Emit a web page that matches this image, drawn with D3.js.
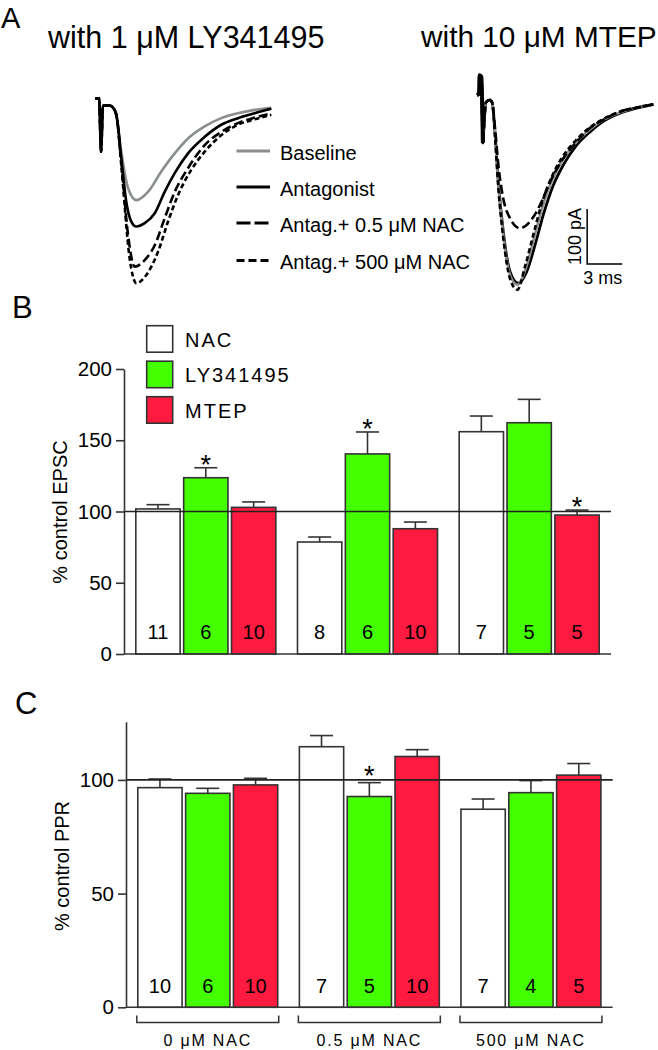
<!DOCTYPE html>
<html>
<head>
<meta charset="utf-8">
<script src="https://cdn.jsdelivr.net/npm/d3@7"></script>
<style>
  html,body{margin:0;padding:0;background:#fff;}
  svg{display:block;}
  text{font-family:"Liberation Sans", Arial, Helvetica, sans-serif;fill:#000;}
</style>
</head>
<body>
<svg id="chart" width="658" height="1050"></svg>
<script>
// ---------------- DATA ----------------
// Panel A traces: [time (ms), current (pA)]
const leftArtifact = [[0,3],[0.35,3],[0.52,-94],[0.68,-10],[0.95,-10],[1.25,-10],[1.55,-14],[1.83,-27]];
const leftBaseline = [[2.25,-94],[2.83,-160],[3.54,-182],[4.54,-167],[5.68,-130],[6.83,-97],[7.97,-70],[9.40,-48],[10.82,-33],[12.25,-24],[13.68,-18],[15.11,-14]];
const leftAntag    = [[2.25,-105],[2.68,-185],[3.11,-221],[3.54,-230],[4.26,-224],[5.12,-206],[5.97,-167],[6.83,-133],[7.97,-97],[9.40,-67],[10.82,-45],[12.25,-33],[13.68,-24],[15.11,-16]];
const leftNac05    = [[2.25,-112],[2.83,-245],[3.40,-303],[4.26,-291],[5.12,-264],[5.97,-215],[6.83,-167],[7.97,-124],[9.40,-82],[10.82,-58],[12.25,-42],[13.68,-32],[15.11,-24]];
const leftNac500   = [[2.25,-118],[2.97,-288],[3.54,-333],[4.40,-318],[5.40,-276],[6.26,-221],[7.11,-173],[8.25,-127],[9.40,-94],[10.82,-64],[12.25,-45],[13.68,-35],[15.11,-27]];

const rightArtifact = [[0,9],[0.18,12],[0.22,45],[0.38,42],[0.5,-78],[0.62,-40],[0.75,-5],[1.1,0],[1.3,-5]];
const rightBaseline = [[1.54,-62],[1.83,-155],[2.25,-245],[2.83,-318],[3.45,-336],[4.2,-305],[4.9,-250],[5.6,-195],[6.45,-145],[7.3,-110],[8.45,-78],[9.6,-55],[10.75,-37],[12.2,-23],[13.6,-14],[15.1,-8]];
const rightAntag    = [[1.54,-58],[1.83,-149],[2.25,-239],[2.83,-312],[3.54,-333],[4.26,-312],[4.97,-264],[5.68,-209],[6.54,-155],[7.40,-118],[8.54,-82],[9.68,-58],[10.82,-39],[12.25,-24],[13.68,-15],[15.11,-8]];
const rightNac05    = [[1.54,-50],[1.83,-118],[2.25,-179],[2.83,-215],[3.68,-233],[4.54,-221],[5.40,-191],[6.26,-149],[7.40,-106],[8.54,-76],[9.68,-51],[10.82,-36],[12.25,-21],[13.68,-14],[15.11,-8]];
const rightNac500   = [[1.54,-65],[1.83,-160],[2.25,-250],[2.83,-325],[3.45,-345],[4.15,-300],[4.85,-243],[5.55,-188],[6.4,-140],[7.25,-106],[8.4,-75],[9.55,-52],[10.7,-36],[12.15,-22],[13.6,-14],[15.1,-8]];

const traceLabels = ["Baseline","Antagonist","Antag.+ 0.5 \u03bcM NAC","Antag.+ 500 \u03bcM NAC"];
const panelTitles = ["with 1 \u03bcM LY341495","with 10 \u03bcM MTEP"];
const scaleBarPA = 100, scaleBarMS = 3;

// Panels B & C
const groups = ["0 \u03bcM NAC","0.5 \u03bcM NAC","500 \u03bcM NAC"];
const series = ["NAC","LY341495","MTEP"];
const seriesColors = ["#ffffff","#44ff00","#ff1a40"];

const epscMean = [[101.8,123.7,102.9],[78.6,140.4,87.9],[156.0,162.3,97.5]];
const epscErr  = [[3.0,7.0,3.8],[3.5,15.4,4.7],[11.0,16.4,3.5]];
const epscN    = [[11,6,10],[8,6,10],[7,5,5]];
const epscSig  = [[0,1,0],[0,1,0],[0,0,1]];
const epscTicks = [0,50,100,150,200];

const pprMean = [[96.6,94.1,97.8],[114.6,92.7,110.3],[87.1,94.4,102.1]];
const pprErr  = [[3.8,2.2,2.9],[4.9,6.1,3.0],[4.5,5.3,5.1]];
const pprN    = [[10,6,10],[7,5,10],[7,4,5]];
const pprSig  = [[0,0,0],[0,1,0],[0,0,0]];
const pprTicks = [0,50,100];

// ---------------- DRAW ----------------
const svg = d3.select("#chart");
svg.append("rect").attr("width",658).attr("height",1050).attr("fill","#fff");

// Panel letters
[["A",1,28,29],["B",12,318,31],["C",15,714,31]].forEach(([t,x,y,fs])=>{
  svg.append("text").attr("x",x).attr("y",y).attr("font-size",fs).text(t);
});

// ---- Panel A ----
svg.append("text").attr("x",48).attr("y",48).attr("font-size",30.5).text(panelTitles[0]);
svg.append("text").attr("x",421).attr("y",47).attr("font-size",29.8).text(panelTitles[1]);

const pxPerMs = 11.67, pxPerPA = 0.55;
const xL = d3.scaleLinear().domain([0,16]).range([95, 95+16*pxPerMs]);
const xR = d3.scaleLinear().domain([0,16]).range([477, 477+16*pxPerMs]);
const yT = d3.scaleLinear().domain([0,-400]).range([100, 100+400*pxPerPA]);

const styles = [
  {stroke:"#8a8e8e", dash:null, w:2.6},
  {stroke:"#000", dash:null, w:2.6},
  {stroke:"#000", dash:"9,4", w:2.6},
  {stroke:"#000", dash:"5,3", w:2.6}
];
function drawTrace(xs, pts, st, w){
  const line = d3.line().x(d=>xs(d[0])).y(d=>yT(d[1])).curve(d3.curveMonotoneX);
  svg.append("path").attr("d",line(pts)).attr("fill","none")
    .attr("stroke",st.stroke).attr("stroke-width",w||st.w)
    .attr("stroke-dasharray",st.dash).attr("stroke-linejoin","round");
}
const leftSet = [leftBaseline,leftAntag,leftNac05,leftNac500];
leftSet.forEach((tr,i)=>drawTrace(xL, leftArtifact.concat(tr), styles[i]));
const rightSet = [rightBaseline,rightAntag,rightNac05,rightNac500];
[1,0,2,3].forEach(i=>drawTrace(xR, rightArtifact.concat(rightSet[i]), styles[i], i===1?2.8:2.6));
drawTrace(xR, rightArtifact.slice(0,5), {stroke:"#000",dash:null,w:4});

// Legend A
const legDash = [null,null,"14,4","8,4"];
const legY = [151,187,223,260.5];
traceLabels.forEach((lab,i)=>{
  svg.append("line").attr("x1",236.5).attr("x2",270).attr("y1",legY[i]).attr("y2",legY[i])
    .attr("stroke",styles[i].stroke).attr("stroke-width",3).attr("stroke-dasharray",legDash[i]);
  svg.append("text").attr("x",280).attr("y",legY[i]+8.5).attr("font-size",20).text(lab);
});

// Scale bar
const sbT0 = 9.44, sbI0 = -298;
const sbx = xR(sbT0), sby = yT(sbI0);
svg.append("path")
  .attr("d",`M${sbx},${yT(sbI0+scaleBarPA)}V${sby}H${xR(sbT0+scaleBarMS)}`)
  .attr("fill","none").attr("stroke","#000").attr("stroke-width",1.5);
svg.append("text").attr("transform",`translate(${sbx-6},${(sby+yT(sbI0+scaleBarPA))/2}) rotate(-90)`)
  .attr("text-anchor","middle").attr("font-size",18).text(scaleBarPA+" pA");
svg.append("text").attr("x",sbx-4).attr("y",sby+20)
  .attr("font-size",18).text(scaleBarMS+" ms");

// ---- Bar panels ----
function barPanel(opt){
  const y = d3.scaleLinear().domain(opt.domain).range([opt.yBottom, opt.yTop]);
  const x = d3.scaleBand().domain(groups).range([opt.x0, opt.x1]).paddingInner(0.134).paddingOuter(0.073);
  const xi = d3.scaleBand().domain(series).range([0, x.bandwidth()]).paddingInner(0.074);
  const g = svg.append("g");

  groups.forEach((grp,gi)=>{
    series.forEach((s,si)=>{
      const bx = x(grp)+xi(s), bw = xi.bandwidth();
      const m = opt.mean[gi][si], e = opt.err[gi][si];
      const cx = bx+bw/2;
      g.append("line").attr("x1",cx).attr("x2",cx).attr("y1",y(m)).attr("y2",y(m+e))
        .attr("stroke","#333").attr("stroke-width",1.6);
      g.append("line").attr("x1",cx-11.5).attr("x2",cx+11.5).attr("y1",y(m+e)).attr("y2",y(m+e))
        .attr("stroke","#333").attr("stroke-width",1.6);
      g.append("rect").attr("x",bx).attr("y",y(m)).attr("width",bw).attr("height",y(0)-y(m))
        .attr("fill",seriesColors[si]).attr("stroke","#333").attr("stroke-width",1.6);
      g.append("text").attr("x",cx).attr("y",y(0)-opt.nOffset).attr("text-anchor","middle")
        .attr("font-size",20).text(opt.n[gi][si]);
      if(opt.sig[gi][si]){
        g.append("text").attr("x",cx).attr("y",y(m+e)+opt.starOffset).attr("text-anchor","middle")
          .attr("font-size",27).text("*");
      }
    });
  });
  g.append("line").attr("x1",opt.x0).attr("x2",opt.x1).attr("y1",y(0)).attr("y2",y(0))
    .attr("stroke","#333").attr("stroke-width",1.6);
  g.append("line").attr("x1",opt.x0).attr("x2",opt.x1).attr("y1",y(100)).attr("y2",y(100))
    .attr("stroke","#222").attr("stroke-width",1.6);
  const ax = g.append("g").attr("transform",`translate(${opt.x0},0)`)
    .call(d3.axisLeft(y).tickValues(opt.ticks).tickSize(8).tickSizeOuter(0).tickPadding(4).tickFormat(d3.format("d")));
  ax.select(".domain").attr("stroke","#333").attr("stroke-width",1.6);
  ax.selectAll(".tick line").attr("stroke","#333").attr("stroke-width",1.6);
  ax.selectAll(".tick text").attr("font-size",20.5).attr("fill","#000")
    .style("font-family","'Liberation Sans', Arial, sans-serif");
  g.append("text").attr("transform",`translate(${opt.labelX},${opt.labelY}) rotate(-90)`)
    .attr("text-anchor","middle").attr("font-size",20).text(opt.label);
  return {x, xi, y};
}

barPanel({domain:[0,200], yBottom:654, yTop:369, x0:124, x1:611,
  mean:epscMean, err:epscErr, n:epscN, sig:epscSig, ticks:epscTicks,
  nOffset:15, starOffset:6, label:"% control EPSC", labelX:67, labelY:512});

const pc = barPanel({domain:[0,125.6], yBottom:1007.3, yTop:721.7, x0:126, x1:612.7,
  mean:pprMean, err:pprErr, n:pprN, sig:pprSig, ticks:pprTicks,
  nOffset:14, starOffset:2, label:"% control PPR", labelX:69, labelY:866});

// Legend B
series.forEach((s,i)=>{
  const yy = 325.7 + i*35.5;
  svg.append("rect").attr("x",146.7).attr("y",yy).attr("width",26).attr("height",26.5)
    .attr("fill",seriesColors[i]).attr("stroke","#333").attr("stroke-width",1.6);
  svg.append("text").attr("x",185).attr("y",yy+21).attr("font-size",20)
    .attr("letter-spacing",2).text(s);
});

// Group brackets (panel C)
groups.forEach((grp,gi)=>{
  const a = pc.x(grp)-1, b = pc.x(grp)+pc.x.bandwidth()+1;
  const yb = 1022.5;
  svg.append("path").attr("d",`M${a},${yb-7}V${yb}H${b}V${yb-7}`)
    .attr("fill","none").attr("stroke","#333").attr("stroke-width",1.5);
  svg.append("text").attr("x",(a+b)/2).attr("y",1046).attr("text-anchor","middle")
    .attr("font-size",16).attr("letter-spacing",1.8).text(grp);
});
</script>
</body>
</html>
